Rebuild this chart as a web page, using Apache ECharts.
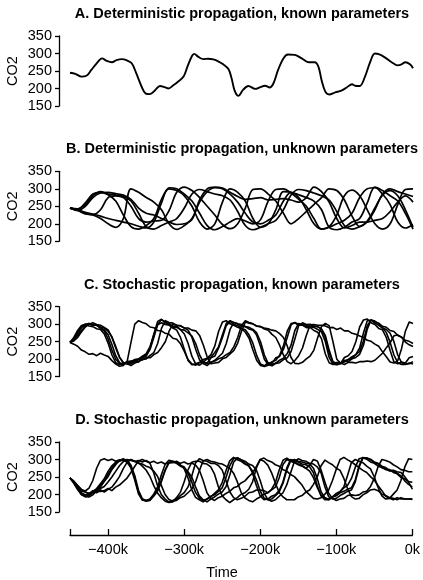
<!DOCTYPE html>
<html>
<head>
<meta charset="utf-8">
<script src="https://cdn.jsdelivr.net/npm/echarts@6/dist/echarts.min.js"></script>
<style>
  html, body { margin: 0; padding: 0; background: #ffffff; }
  #chart { width: 423px; height: 580px; }
</style>
</head>
<body>
<div id="chart"></div>
<script>
// ---- Data (time in thousands of years, CO2 in ppm) ----
const panelTitles = [
  'A. Deterministic propagation, known parameters',
  'B. Deterministic propagation, unknown parameters',
  'C. Stochastic propagation, known parameters',
  'D. Stochastic propagation, unknown parameters'
];
const yTicks = [150, 200, 250, 300, 350];
const xTickValues = [-450, -400, -300, -200, -100, 0];
const xLabelValues = [-400, -300, -200, -100, 0];

// A: single deterministic trajectory
const timeA = [-450, -443, -435, -428, -422, -415, -408, -402, -395, -389, -382, -376, -369, -363, -356, -351,
  -345, -338, -332, -325, -321, -314, -308, -301, -296, -290, -287, -282, -275, -269, -262, -255, -249, -242,
  -238, -234, -229, -223, -216, -207, -201, -194, -188, -183, -177, -170, -164, -155, -146, -137, -129, -124,
  -120, -115, -110, -102, -94, -87, -80, -76, -70, -63, -56, -50, -45, -37, -28, -20, -15, -10, -4, 0];
const co2A = [245, 242, 234, 237, 253, 272, 286, 279, 275, 281, 284, 281, 272, 243, 205, 186,
  184, 196, 207, 203, 200, 210, 220, 234, 262, 293, 299, 291, 284, 285, 283, 277, 269, 255,
  229, 194, 179, 196, 207, 199, 203, 208, 203, 215, 253, 286, 297, 296, 286, 275, 275, 262,
  224, 191, 183, 189, 194, 203, 212, 208, 207, 234, 277, 300, 298, 289, 275, 266, 269, 275, 269, 258];

// B: deterministic trajectories, 10k steps
const timeB = [-450, -440, -430, -420, -410, -400, -390, -380, -370, -360, -350, -340, -330, -320, -310, -300,
  -290, -280, -270, -260, -250, -240, -230, -220, -210, -200, -190, -180, -170, -160, -150, -140, -130, -120,
  -110, -100, -90, -80, -70, -60, -50, -40, -30, -20, -10, 0];
const co2B1 = [245, 243, 255, 280, 292, 285, 282, 278, 265, 230, 192, 185, 195, 205, 215, 245, 285, 298, 292, 285,
  280, 268, 235, 195, 183, 190, 200, 210, 240, 282, 298, 295, 288, 280, 268, 235, 195, 185, 192, 205, 240, 285, 300, 292, 285, 278];
const co2B2 = [245, 242, 260, 285, 290, 283, 265, 225, 192, 185, 195, 215, 270, 300, 295, 280, 250, 205, 185, 200,
  262, 300, 290, 265, 215, 190, 200, 240, 292, 290, 275, 240, 200, 185, 192, 225, 280, 296, 280, 240, 200, 185, 200, 255, 298, 300];
const co2B3 = [245, 240, 230, 225, 215, 200, 190, 215, 300, 290, 275, 262, 240, 200, 184, 195, 215, 262, 292, 303,
  300, 285, 262, 230, 205, 200, 210, 225, 265, 290, 283, 275, 265, 240, 190, 183, 190, 205, 215, 260, 305, 295, 280, 265, 230, 185];
const co2B4 = [245, 240, 233, 228, 222, 215, 210, 205, 200, 193, 188, 205, 260, 303, 300, 285, 265, 230, 195, 183,
  192, 205, 215, 208, 200, 212, 265, 298, 300, 288, 270, 250, 215, 185, 190, 200, 210, 230, 275, 300, 303, 285, 255, 205, 188, 198];
const co2B5 = [245, 238, 250, 275, 288, 290, 286, 282, 270, 245, 230, 225, 215, 205, 198, 200, 212, 268, 300, 305,
  302, 290, 278, 270, 272, 275, 268, 270, 272, 268, 262, 275, 305, 292, 262, 215, 188, 195, 205, 205, 210, 215, 235, 262, 280, 262];
const co2B6 = [245, 238, 228, 226, 240, 275, 280, 275, 250, 215, 205, 208, 210, 238, 290, 305, 295, 275, 250, 225,
  198, 186, 200, 245, 298, 300, 285, 265, 230, 200, 215, 235, 255, 275, 300, 295, 268, 222, 192, 208, 245, 282, 295, 280, 240, 190];

// C and D: stochastic trajectories, 5k steps
const timeCD = [-450, -445, -440, -435, -430, -425, -420, -415, -410, -405, -400, -395, -390, -385, -380, -375,
  -370, -365, -360, -355, -350, -345, -340, -335, -330, -325, -320, -315, -310, -305, -300, -295, -290, -285,
  -280, -275, -270, -265, -260, -255, -250, -245, -240, -235, -230, -225, -220, -215, -210, -205, -200, -195,
  -190, -185, -180, -175, -170, -165, -160, -155, -150, -145, -140, -135, -130, -125, -120, -115, -110, -105,
  -100, -95, -90, -85, -80, -75, -70, -65, -60, -55, -50, -45, -40, -35, -30, -25, -20, -15, -10, -5, 0];

const co2C1 = [248, 258, 275, 292, 300, 302, 297, 298, 289, 284, 270, 242, 210, 190, 186, 191, 187, 194, 192, 203,
  209, 228, 262, 300, 313, 305, 302, 294, 295, 284, 272, 245, 208, 186, 183, 191, 189, 204, 209, 232,
  262, 296, 308, 299, 296, 288, 284, 269, 245, 210, 186, 181, 190, 188, 204, 208, 228, 262, 298, 305,
  299, 298, 290, 291, 282, 277, 258, 215, 190, 185, 191, 188, 205, 210, 222, 250, 292, 312, 315, 304,
  299, 288, 284, 262, 225, 192, 187, 192, 189, 204, 208];
const co2C2 = [248, 252, 262, 278, 292, 300, 304, 299, 297, 291, 284, 262, 232, 205, 190, 187, 182, 189, 193, 199,
  201, 211, 219, 245, 288, 310, 305, 303, 297, 296, 289, 283, 262, 228, 198, 187, 182, 191, 197, 207,
  217, 245, 285, 305, 301, 299, 293, 291, 285, 275, 250, 212, 188, 185, 189, 197, 203, 216, 240, 282,
  302, 299, 297, 293, 291, 285, 278, 250, 205, 186, 184, 187, 195, 199, 207, 213, 232, 275, 310, 312,
  303, 297, 289, 285, 274, 250, 212, 190, 186, 187, 193];
const co2C3 = [248, 243, 237, 226, 221, 214, 216, 210, 217, 212, 208, 196, 186, 180, 182, 194, 248, 300, 310, 305,
  301, 292, 290, 282, 281, 274, 271, 260, 257, 244, 222, 198, 186, 183, 190, 192, 201, 206, 219, 236,
  270, 302, 310, 305, 301, 294, 293, 286, 283, 268, 236, 200, 184, 181, 188, 190, 199, 204, 222, 258,
  296, 304, 299, 300, 294, 293, 286, 268, 226, 192, 185, 190, 192, 199, 202, 213, 222, 252, 296, 312,
  307, 303, 294, 291, 282, 279, 268, 263, 254, 251, 245];
const co2C4 = [248, 262, 282, 296, 300, 295, 293, 287, 285, 272, 246, 212, 190, 185, 187, 193, 195, 195, 199, 207,
  212, 232, 272, 308, 314, 305, 299, 289, 283, 262, 228, 196, 184, 187, 191, 199, 203, 213, 238, 280,
  306, 310, 301, 297, 291, 287, 277, 260, 226, 196, 182, 179, 183, 193, 197, 211, 238, 280, 302, 304,
  297, 297, 293, 293, 295, 293, 286, 262, 218, 192, 189, 189, 197, 193, 201, 205, 214, 240, 286, 312,
  309, 301, 291, 276, 248, 212, 190, 185, 185, 189, 186];
const co2C5 = [248, 256, 268, 282, 294, 300, 297, 297, 292, 289, 280, 264, 236, 206, 190, 186, 191, 193, 199, 198,
  205, 204, 213, 219, 233, 250, 280, 300, 297, 295, 289, 289, 283, 281, 268, 240, 206, 187, 189, 191,
  201, 205, 215, 225, 246, 280, 306, 303, 301, 294, 293, 286, 283, 271, 262, 240, 212, 193, 187, 196,
  210, 232, 268, 298, 299, 297, 297, 295, 290, 291, 285, 289, 281, 281, 274, 271, 266, 263, 254, 251,
  243, 237, 221, 207, 192, 189, 196, 230, 280, 306, 302];
const co2C6 = [248, 258, 274, 290, 298, 302, 299, 297, 289, 280, 258, 226, 200, 188, 185, 191, 193, 199, 201, 209,
  216, 236, 270, 298, 304, 299, 297, 291, 291, 285, 283, 275, 266, 244, 212, 192, 187, 191, 195, 201,
  205, 213, 219, 236, 262, 296, 310, 305, 301, 295, 293, 289, 287, 283, 281, 273, 262, 238, 205, 188,
  187, 191, 201, 209, 226, 262, 294, 302, 296, 250, 200, 189, 185, 191, 191, 189, 193, 193, 195, 193,
  197, 207, 217, 233, 247, 267, 269, 263, 249, 241, 236];

const co2D1 = [247, 238, 225, 214, 210, 218, 240, 275, 298, 302, 297, 301, 295, 299, 299, 295, 299, 294, 297, 293,
  297, 291, 295, 289, 293, 287, 291, 291, 295, 289, 293, 287, 290, 284, 270, 240, 205, 189, 183, 191,
  195, 203, 209, 219, 223, 233, 239, 251, 261, 280, 300, 304, 297, 293, 285, 281, 271, 267, 257, 251,
  239, 227, 209, 199, 189, 187, 191, 201, 213, 240, 272, 300, 306, 299, 293, 285, 277, 269, 263, 251,
  241, 225, 211, 195, 189, 185, 191, 187, 187, 187, 186];
const co2D2 = [247, 236, 220, 205, 196, 193, 199, 211, 221, 237, 251, 271, 285, 297, 299, 298, 284, 255, 212, 188,
  183, 185, 197, 213, 240, 270, 292, 295, 291, 283, 279, 261, 236, 206, 190, 183, 187, 195, 199, 209,
  219, 248, 282, 302, 305, 299, 289, 283, 261, 226, 196, 185, 187, 195, 199, 211, 236, 276, 300, 297,
  293, 287, 285, 279, 262, 226, 196, 185, 185, 193, 197, 205, 209, 215, 219, 242, 282, 306, 303, 299,
  291, 287, 277, 273, 267, 267, 261, 253, 239, 229, 222];
const co2D3 = [247, 234, 216, 200, 193, 195, 205, 213, 227, 239, 258, 276, 290, 297, 302, 296, 280, 248, 206, 186,
  181, 183, 195, 209, 236, 268, 290, 293, 289, 281, 277, 265, 250, 222, 196, 185, 179, 187, 193, 201,
  207, 222, 256, 292, 304, 299, 295, 287, 283, 270, 240, 204, 186, 181, 185, 195, 205, 228, 262, 294,
  302, 297, 295, 289, 287, 279, 262, 222, 194, 187, 189, 197, 203, 209, 213, 236, 278, 304, 305, 301,
  293, 289, 281, 277, 269, 269, 265, 263, 251, 236, 215];
const co2D4 = [247, 232, 214, 200, 195, 197, 209, 217, 231, 245, 266, 282, 292, 295, 299, 292, 276, 242, 202, 184,
  183, 187, 201, 221, 256, 286, 298, 295, 293, 285, 274, 248, 214, 192, 185, 179, 187, 193, 203, 213,
  234, 268, 296, 306, 299, 295, 287, 281, 267, 242, 210, 190, 185, 187, 197, 207, 232, 270, 296, 300,
  295, 293, 289, 287, 275, 246, 208, 190, 187, 193, 203, 209, 219, 227, 246, 278, 302, 305, 301, 293,
  289, 281, 277, 271, 271, 263, 259, 249, 245, 237, 235];
const co2D5 = [247, 236, 222, 210, 207, 203, 209, 211, 217, 223, 236, 250, 266, 282, 294, 300, 297, 295, 289, 287,
  281, 277, 267, 252, 226, 200, 186, 181, 183, 191, 195, 205, 215, 236, 268, 296, 300, 295, 293, 289,
  287, 281, 275, 261, 236, 206, 190, 183, 179, 187, 193, 201, 205, 215, 234, 270, 298, 304, 297, 293,
  287, 283, 275, 267, 248, 220, 198, 191, 185, 193, 197, 207, 222, 256, 292, 300, 295, 291, 281, 273,
  250, 220, 196, 187, 189, 201, 213, 240, 278, 302, 300];
const co2D6 = [247, 238, 226, 214, 207, 203, 207, 209, 209, 211, 217, 211, 221, 227, 237, 247, 263, 280, 296, 300,
  295, 290, 262, 226, 200, 187, 178, 183, 187, 197, 205, 221, 252, 290, 302, 297, 295, 289, 289, 283,
  270, 240, 208, 191, 185, 189, 195, 205, 207, 213, 213, 211, 205, 213, 221, 248, 286, 300, 295, 291,
  285, 281, 275, 283, 300, 296, 270, 236, 204, 189, 183, 187, 189, 197, 199, 197, 199, 207, 209, 223,
  246, 280, 300, 297, 293, 285, 279, 271, 269, 265, 265];
const co2D7 = [247, 234, 218, 204, 199, 201, 211, 205, 213, 207, 215, 221, 235, 251, 274, 292, 300, 295, 291, 281,
  270, 252, 226, 204, 191, 181, 177, 179, 191, 206, 236, 270, 292, 295, 295, 289, 287, 279, 258, 222,
  196, 185, 177, 185, 191, 201, 205, 215, 236, 276, 300, 295, 284, 262, 232, 206, 193, 185, 185, 185,
  193, 197, 207, 213, 229, 250, 282, 298, 291, 285, 275, 269, 246, 216, 194, 187, 189, 199, 205, 213,
  215, 211, 201, 197, 191, 189, 185, 191, 187, 187, 188];

// ---- Layout ----
const FONT = '"Liberation Sans", Arial, Helvetica, sans-serif';
const plotLeft = 70, plotWidth = 343, plotHeight = 70;
const panelTops = [36, 171.3, 306.7, 442];

const pairs = (ts, vs) => ts.map((t, i) => [t, vs[i]]);

const panelSeries = [
  { times: timeA, lines: [co2A], smooth: 0.35, width: 1.9 },
  { times: timeB, lines: [co2B1, co2B2, co2B3, co2B4, co2B5, co2B6], smooth: 0.35, width: 1.7 },
  { times: timeCD, lines: [co2C1, co2C2, co2C3, co2C4, co2C5, co2C6], smooth: false, width: 1.6 },
  { times: timeCD, lines: [co2D1, co2D2, co2D3, co2D4, co2D5, co2D6, co2D7], smooth: false, width: 1.6 }
];

const grids = [], xAxes = [], yAxes = [], series = [], graphics = [];

panelTops.forEach((top, p) => {
  grids.push({ left: plotLeft, top: top, width: plotWidth, height: plotHeight, containLabel: false });
  const isBottom = p === panelTops.length - 1;
  xAxes.push({
    type: 'value', gridIndex: p, min: -450, max: 0,
    show: isBottom, position: 'bottom', offset: 23,
    axisLine: { show: true, onZero: false, lineStyle: { color: '#000', width: 1.3 } },
    axisTick: { show: true, inside: true, length: 6, customValues: xTickValues, lineStyle: { color: '#000', width: 1.3 } },
    axisLabel: {
      show: true, customValues: xLabelValues, color: '#000', fontSize: 14.5, fontFamily: FONT, margin: 7,
      formatter: v => (v === 0 ? '0k' : '\u2212' + Math.abs(v) + 'k')
    },
    splitLine: { show: false }
  });
  yAxes.push({
    type: 'value', gridIndex: p, min: yTicks[0], max: yTicks[yTicks.length - 1], interval: 50,
    position: 'left', offset: 11,
    axisLine: { show: true, onZero: false, lineStyle: { color: '#000', width: 1.3 } },
    axisTick: { show: true, length: 4, lineStyle: { color: '#000', width: 1.3 } },
    axisLabel: { color: '#000', fontSize: 14.5, fontFamily: FONT, margin: 7 },
    splitLine: { show: false }
  });
  const cfg = panelSeries[p];
  cfg.lines.forEach(vals => {
    series.push({
      type: 'line', xAxisIndex: p, yAxisIndex: p,
      data: pairs(cfg.times, vals),
      showSymbol: false, smooth: cfg.smooth, silent: true,
      lineStyle: { color: '#000', width: cfg.width, join: 'round' },
      emphasis: { disabled: true }
    });
  });
  graphics.push({
    type: 'text', x: 242, y: top - 22,
    style: { text: panelTitles[p], font: 'bold 14.5px ' + FONT, fill: '#000', textAlign: 'center', textVerticalAlign: 'middle' }
  });
  graphics.push({
    type: 'text', x: 13, y: top + plotHeight / 2, rotation: Math.PI / 2,
    style: { text: 'CO2', font: '14.5px ' + FONT, fill: '#000', textAlign: 'center', textVerticalAlign: 'middle' }
  });
});

graphics.push({
  type: 'text', x: 222, y: 573,
  style: { text: 'Time', font: '14.5px ' + FONT, fill: '#000', textAlign: 'center', textVerticalAlign: 'middle' }
});

const chart = echarts.init(document.getElementById('chart'), null, { renderer: 'canvas' });
chart.setOption({
  animation: false,
  backgroundColor: '#ffffff',
  grid: grids,
  xAxis: xAxes,
  yAxis: yAxes,
  series: series,
  graphic: { elements: graphics }
});
</script>
</body>
</html>
